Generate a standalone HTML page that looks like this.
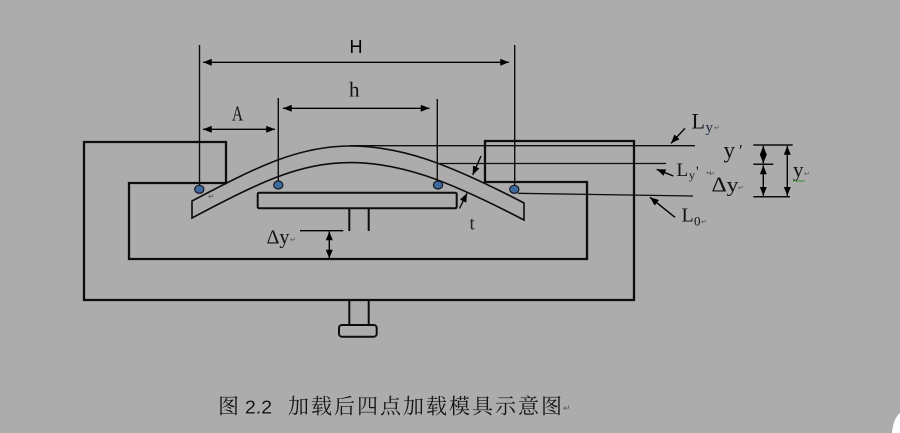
<!DOCTYPE html>
<html><head><meta charset="utf-8"><style>
html,body{margin:0;padding:0;background:#acacac;width:900px;height:433px;overflow:hidden;}
svg{display:block;}
</style></head><body>
<svg width="900" height="433" viewBox="0 0 900 433" xmlns="http://www.w3.org/2000/svg">
<defs>
<marker id="ah" viewBox="0 0 10 8" refX="10" refY="4" markerWidth="9" markerHeight="7" markerUnits="userSpaceOnUse" orient="auto-start-reverse">
<path d="M0,0 L10,4 L0,8 z" fill="#000"/>
</marker>
</defs>
<rect width="900" height="433" fill="#acacac"/>

<!-- frame -->
<path d="M84,142 L226,142 L226,183 L129,183 L129,259 L587,259 L587,182 L485,182 L485,141 L634,141 L634,300 L84,300 Z" fill="none" stroke="#0d0d0d" stroke-width="2.3"/>

<!-- bottom knob -->
<line x1="349.3" y1="300" x2="349.3" y2="325" stroke="#0d0d0d" stroke-width="2"/>
<line x1="368.7" y1="300" x2="368.7" y2="325" stroke="#0d0d0d" stroke-width="2"/>
<rect x="339" y="325" width="37.7" height="11.7" rx="3" fill="none" stroke="#0d0d0d" stroke-width="2"/>

<!-- platform -->
<rect x="257.7" y="192.7" width="199" height="15.6" rx="1.5" fill="none" stroke="#0d0d0d" stroke-width="2"/>
<line x1="349.3" y1="208.3" x2="349.3" y2="231" stroke="#0d0d0d" stroke-width="2"/>
<line x1="368.7" y1="208.3" x2="368.7" y2="231" stroke="#0d0d0d" stroke-width="2"/>

<!-- plate -->
<path d="M192,201 C260,165 300,146 350,146 C400,146 445,162 524,203 L524,220 C445,179 400,162.6 350,162.6 C300,162.6 260,182 192,218 Z" fill="none" stroke="#0d0d0d" stroke-width="1.6"/>
<text x="208" y="199" font-family="Liberation Serif, serif" font-size="8" fill="#555">↵</text>

<!-- vertical dimension lines -->
<line x1="199.5" y1="45" x2="199.5" y2="186" stroke="#0d0d0d" stroke-width="1.4"/>
<line x1="514.7" y1="45" x2="514.7" y2="186" stroke="#0d0d0d" stroke-width="1.4"/>
<line x1="278.3" y1="98" x2="278.3" y2="182" stroke="#0d0d0d" stroke-width="1.4"/>
<line x1="437.3" y1="99" x2="437.3" y2="182" stroke="#0d0d0d" stroke-width="1.4"/>

<!-- beads -->
<ellipse cx="199.3" cy="189.3" rx="4.6" ry="4" fill="#3d6b9e" stroke="#161622" stroke-width="1.2"/>
<ellipse cx="278.3" cy="185" rx="4.6" ry="4" fill="#3d6b9e" stroke="#161622" stroke-width="1.2"/>
<ellipse cx="438" cy="185" rx="4.6" ry="4" fill="#3d6b9e" stroke="#161622" stroke-width="1.2"/>
<ellipse cx="514.3" cy="189.3" rx="4.6" ry="4" fill="#3d6b9e" stroke="#161622" stroke-width="1.2"/>

<!-- H arrow -->
<line x1="203" y1="62.3" x2="509" y2="62.3" stroke="#000" stroke-width="1.4" marker-start="url(#ah)" marker-end="url(#ah)"/>
<text x="349.5" y="53" font-family="Liberation Sans, sans-serif" font-size="18" fill="#000">H</text>
<!-- h arrow -->
<line x1="283" y1="108.3" x2="429.5" y2="108.3" stroke="#000" stroke-width="1.4" marker-start="url(#ah)" marker-end="url(#ah)"/>
<text x="349" y="96.5" font-family="Liberation Serif, serif" font-size="21" fill="#111">h</text>
<!-- A arrow -->
<line x1="203" y1="129.3" x2="275" y2="129.3" stroke="#000" stroke-width="1.4" marker-start="url(#ah)" marker-end="url(#ah)"/>
<text x="232" y="120.5" font-family="Liberation Serif, serif" font-size="21" textLength="11" lengthAdjust="spacingAndGlyphs" fill="#111">A</text>

<!-- delta y left -->
<line x1="300" y1="230.7" x2="343.3" y2="230.7" stroke="#000" stroke-width="1.4"/>
<line x1="329.3" y1="231.5" x2="329.3" y2="258.5" stroke="#000" stroke-width="1.4" marker-start="url(#ah)" marker-end="url(#ah)"/>
<text x="266.5" y="243.5" font-family="Liberation Serif, serif" font-size="20" textLength="23" lengthAdjust="spacingAndGlyphs" fill="#111">Δy</text>
<text x="290" y="242" font-family="Liberation Serif, serif" font-size="7" fill="#555">↵</text>

<!-- t -->
<text x="469.5" y="229.5" font-family="Liberation Serif, serif" font-size="19" fill="#222">t</text>
<line x1="459.5" y1="208.5" x2="467" y2="193.3" stroke="#000" stroke-width="1.3" marker-end="url(#ah)"/>
<line x1="481" y1="156" x2="472.7" y2="175" stroke="#000" stroke-width="1.3" marker-end="url(#ah)"/>

<!-- reference lines -->
<line x1="350" y1="145.7" x2="695" y2="145.7" stroke="#0d0d0d" stroke-width="1.4"/>
<line x1="440" y1="163.5" x2="666" y2="163.5" stroke="#0d0d0d" stroke-width="1.3"/>
<line x1="518" y1="193.3" x2="693" y2="196" stroke="#0d0d0d" stroke-width="1.3"/>

<!-- label arrows -->
<line x1="685" y1="128.3" x2="671" y2="143.3" stroke="#000" stroke-width="1.4" marker-end="url(#ah)"/>
<line x1="673.3" y1="176" x2="656.7" y2="169.3" stroke="#000" stroke-width="1.4" marker-end="url(#ah)"/>
<line x1="675" y1="217.3" x2="650" y2="197.3" stroke="#000" stroke-width="1.4" marker-end="url(#ah)"/>

<!-- Ly -->
<text x="691.5" y="128.3" font-family="Liberation Serif, serif" font-size="22" fill="#111">L</text>
<text x="705.5" y="132" font-family="Liberation Serif, serif" font-size="15" fill="#1d2540">y</text>
<text x="714" y="130" font-family="Liberation Serif, serif" font-size="7" fill="#555">↵</text>
<!-- Ly' -->
<text x="676.5" y="176" font-family="Liberation Serif, serif" font-size="19" fill="#111">L</text>
<text x="689" y="179" font-family="Liberation Serif, serif" font-size="12" fill="#111">y</text>
<text x="696" y="176" font-family="Liberation Serif, serif" font-size="15" fill="#111">'</text>
<text x="706" y="175" font-family="Liberation Serif, serif" font-size="7" fill="#555">↵</text>
<!-- L0 -->
<text x="681.5" y="221.7" font-family="Liberation Serif, serif" font-size="20" fill="#111">L</text>
<text x="694" y="225.5" font-family="Liberation Serif, serif" font-size="13" fill="#111">0</text>
<text x="701" y="224" font-family="Liberation Serif, serif" font-size="7" fill="#555">↵</text>

<!-- y' -->
<text x="723.5" y="157.5" font-family="Liberation Serif, serif" font-size="23" fill="#111">y</text>
<text x="739" y="156" font-family="Liberation Serif, serif" font-size="17" fill="#111">′</text>
<!-- delta y right -->
<text x="709" y="176" font-family="Liberation Serif, serif" font-size="7" fill="#555">↵</text>
<text x="711.5" y="191.7" font-family="Liberation Serif, serif" font-size="21" textLength="27" lengthAdjust="spacingAndGlyphs" fill="#111">Δy</text>
<text x="738" y="190" font-family="Liberation Serif, serif" font-size="7" fill="#555">↵</text>

<!-- right dimension lines -->
<line x1="753.3" y1="145" x2="792.7" y2="145" stroke="#0d0d0d" stroke-width="1.5"/>
<line x1="753.3" y1="164.3" x2="773.3" y2="164.3" stroke="#0d0d0d" stroke-width="1.5"/>
<line x1="753.3" y1="196.7" x2="790" y2="196.7" stroke="#0d0d0d" stroke-width="1.5"/>
<line x1="763.3" y1="146" x2="763.3" y2="163.3" stroke="#000" stroke-width="1.4" marker-start="url(#ah)" marker-end="url(#ah)"/>
<line x1="763.3" y1="165.5" x2="763.3" y2="195.8" stroke="#000" stroke-width="1.4" marker-start="url(#ah)" marker-end="url(#ah)"/>
<line x1="787.3" y1="146" x2="787.3" y2="195.8" stroke="#000" stroke-width="1.4" marker-start="url(#ah)" marker-end="url(#ah)"/>
<text x="793" y="176.5" font-family="Liberation Serif, serif" font-size="21" fill="#111">y</text>
<text x="804" y="176" font-family="Liberation Serif, serif" font-size="7" fill="#555">↵</text>
<path d="M793,181.5 l2,-1 l2,1 l2,-1 l2,1 l2,-1 l2,1" fill="none" stroke="#2e8b2e" stroke-width="0.9"/>

<!-- caption -->
<text x="218" y="413.5" font-family="Liberation Serif, 'Noto Serif CJK SC', serif" font-size="21" fill="#151515">图</text>
<text x="245" y="413.3" font-family="Liberation Sans, sans-serif" font-size="18" textLength="27" lengthAdjust="spacingAndGlyphs" fill="#151515">2.2</text>
<text x="288" y="413.5" font-family="Liberation Serif, 'Noto Serif CJK SC', serif" font-size="21" textLength="274" lengthAdjust="spacing" fill="#151515">加载后四点加载模具示意图</text>
<text x="563" y="411" font-family="Liberation Serif, serif" font-size="9" fill="#555">↵</text>

<!-- corner blob -->
<path d="M900,413 Q893,419 892,433 L900,433 Z" fill="#ffffff"/>
</svg>
</body></html>
